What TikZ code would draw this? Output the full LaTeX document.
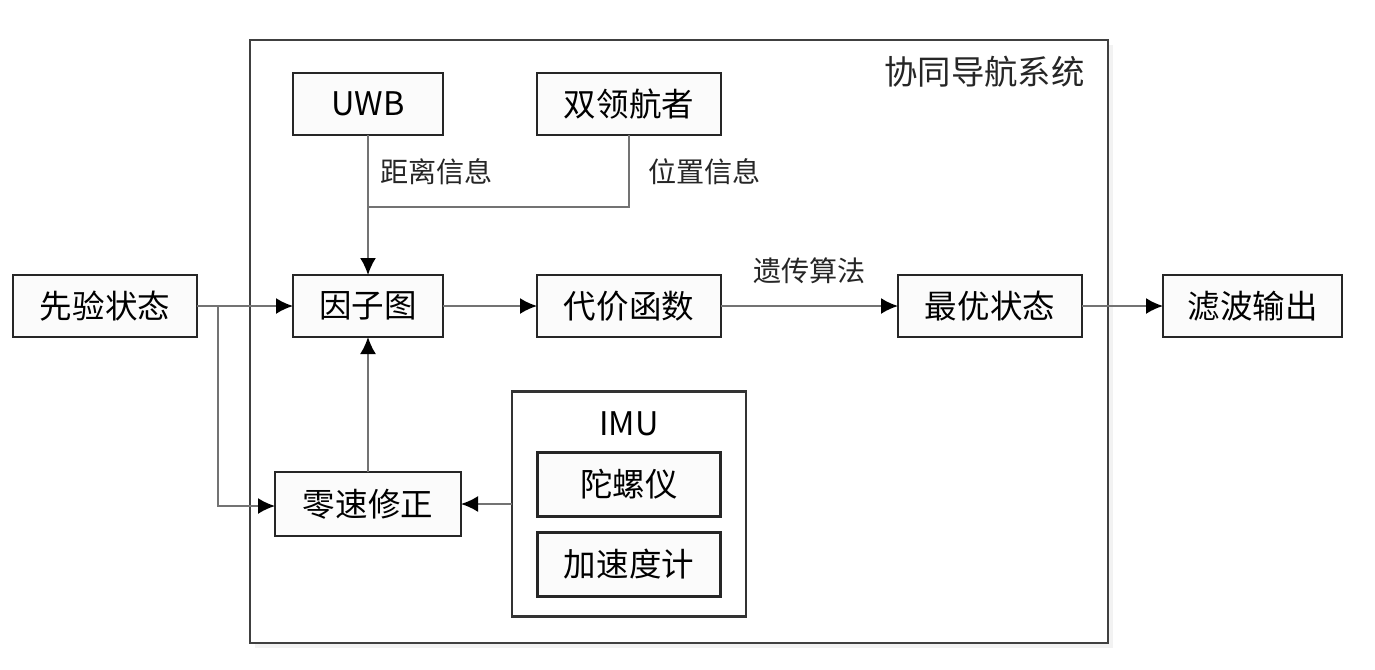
\documentclass[tikz,border=0pt]{standalone}
\usepackage{fontspec}
\setmainfont{Noto Sans CJK SC}
\usepackage{tikz}
\usepackage{xcolor}
\usetikzlibrary{arrows.meta,positioning,shadows}

\begin{document}
\begin{tikzpicture}[
  >=Latex,
  font=\fontsize{18.5}{20}\selectfont,
  box/.style={draw=black!85, line width=1.5pt, fill=gray!3, align=center,
              minimum width=3.0cm, minimum height=1.24cm, inner sep=0pt, outer sep=0pt,
              drop shadow={opacity=0.18, shadow xshift=0.6pt, shadow yshift=-0.6pt}},
  wide/.style={box, minimum width=3.68cm},
  group/.style={draw=black!80, line width=1.3pt, fill=white, inner sep=0pt, outer sep=0pt,
                drop shadow={opacity=0.15, shadow xshift=0.6pt, shadow yshift=-0.6pt}},
  tag/.style={inner sep=0pt, font=\fontsize{16}{18}\selectfont, text=black!85},
  flow/.style={draw=black!55, line width=1.1pt,
               -{Latex[length=3.4mm, width=3.2mm, color=black]}},
  wire/.style={draw=black!55, line width=1.1pt}
]
  \useasboundingbox (0,0) rectangle (27.5,-13.38);

  % the system frame
  \node[group, draw=black!75, line width=1.1pt, drop shadow={opacity=0.1},
        minimum width=17.16cm, minimum height=12.06cm] (sys) at (13.58,-6.83) {};
  \node[anchor=east, inner sep=0pt, text=black!85, font=\fontsize{19}{20}\selectfont]
    (systitle) at ([xshift=-0.46cm, yshift=-0.64cm]sys.north east) {协同导航系统};

  % main row
  \node[wide] (prior) at (2.10,-6.12) {先验状态};
  \node[box, right=1.92cm of prior] (graph) {因子图};
  \node[wide, right=1.88cm of graph] (cost) {代价函数};
  \node[wide, right=3.54cm of cost] (best) {最优状态};
  \node[wide, minimum width=3.58cm, right=1.62cm of best] (output) {滤波输出};

  % measurement sources
  \node[box, above=2.8cm of graph] (uwb) {UWB};
  \node[wide, above=2.8cm of cost] (leader) {双领航者};

  % inertial part
  \node[wide, minimum width=3.72cm, minimum height=1.28cm, below=2.7cm of graph] (zupt) {零速修正};
  \node[group, minimum width=4.68cm, minimum height=4.5cm] (imu) at (cost |- zupt) {};
  \node[inner sep=0pt] (imutitle) at ([yshift=-0.64cm]imu.north) {IMU};
  \node[wide, minimum width=3.66cm, minimum height=1.28cm, below=1.22cm of imu.north] (gyro) {陀螺仪};
  \node[wide, minimum width=3.66cm, minimum height=1.28cm, below=0.32cm of gyro] (accel) {加速度计};

  \coordinate[xshift=0.42cm] (split) at (prior.east);
  \coordinate (join) at (uwb.south |- 0,-4.14);

  \draw[flow] (prior) -- (graph);
  \draw[flow] (split) |- ([yshift=-0.04cm]zupt.west);
  \draw[flow] (uwb) -- (graph);
  \draw[wire] (leader) |- (join);
  \draw[flow] (zupt) -- (graph);
  \draw[flow] (imu.west |- zupt) -- (zupt.east);
  \draw[flow] (graph) -- (cost);
  \draw[flow] (cost) -- node[tag, above=0.42cm] (ga) {遗传算法} (best);
  \draw[flow] (best) -- (output);

  \node[tag, anchor=west] (dist) at ([xshift=0.24cm, yshift=-0.74cm]uwb.south) {距离信息};
  \node[tag, anchor=west] (pos) at ([xshift=0.38cm, yshift=-0.74cm]leader.south) {位置信息};
\end{tikzpicture}
\end{document}
